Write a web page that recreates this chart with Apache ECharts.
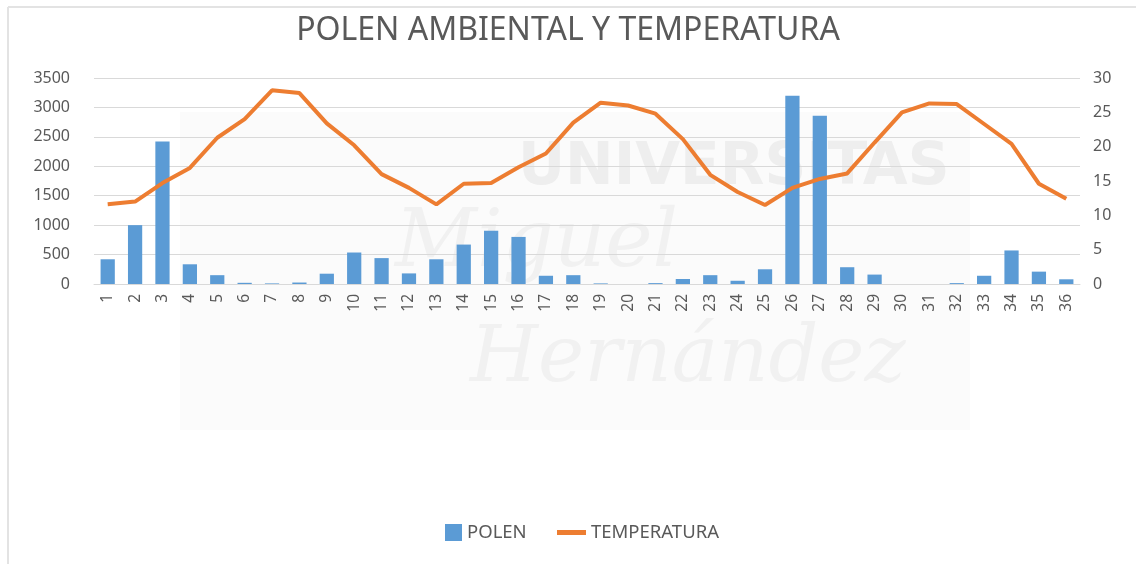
<!DOCTYPE html>
<html lang="es">
  <head>
    <meta charset="UTF-8" />
    <title>Polen ambiental y temperatura</title>
    <script src="https://cdn.jsdelivr.net/npm/echarts@6/dist/echarts.min.js"></script>
    <style>
      html, body { margin: 0; padding: 0; background: #fff; }
      #chart { width: 1136px; height: 564px; }
    </style>
  </head>
  <body>
    <div id="chart"></div>
    <script>
      // muestras 1..36
      var categories = [];
      for (var i = 1; i <= 36; i++) categories.push(String(i));

      var polen = [
        420, 1000, 2420, 335, 150, 20, 10, 25, 175, 535,
        440, 180, 420, 670, 905, 800, 140, 150, 10, 0,
        15, 85, 150, 55, 250, 3200, 2860, 285, 160, 0,
        0, 15, 140, 570, 210, 80
      ];
      var temperatura = [
        11.6, 12.0, 14.7, 16.9, 21.3, 24.0, 28.2, 27.8, 23.4, 20.2,
        16.0, 14.0, 11.6, 14.6, 14.7, 17.0, 19.0, 23.5, 26.4, 26.0,
        24.8, 21.1, 15.9, 13.4, 11.5, 14.0, 15.3, 16.1, 20.6, 25.0,
        26.3, 26.2, 23.3, 20.4, 14.6, 12.4
      ];

      var txt = "#595959";
      var font = "Noto Sans";
      var legendText = { color: txt, fontSize: 18.5, fontFamily: font };

      var chart = echarts.init(document.getElementById("chart"));
      var option = {
        backgroundColor: "#ffffff",
        animation: false,
        textStyle: { fontFamily: font },
        title: {
          text: "POLEN AMBIENTAL Y TEMPERATURA",
          left: "center",
          top: 10,
          textStyle: { color: txt, fontSize: 32, fontWeight: "normal", fontFamily: font }
        },
        graphic: [
          // marco del grafico
          { type: "line", shape: { x1: 8, y1: 7, x2: 1136, y2: 7 }, style: { stroke: "#e3e3e3", lineWidth: 2 }, z: -5 },
          { type: "line", shape: { x1: 8, y1: 7, x2: 8, y2: 564 }, style: { stroke: "#e3e3e3", lineWidth: 2 }, z: -5 },
          // marca de agua
          { type: "rect", shape: { x: 180, y: 112, width: 790, height: 318 }, style: { fill: "#fbfbfb" }, z: -10 },
          { type: "text", left: 518, top: 140, z: -9, style: { text: "UNIVERSITAS", fill: "#eeeeee", font: "bold 58px 'DejaVu Sans'" } },
          { type: "text", left: 395, top: 205, z: -9, style: { text: "Miguel", fill: "#f1f1f1", font: "italic 80px 'DejaVu Serif'" } },
          { type: "text", left: 470, top: 322, z: -9, style: { text: "Hernández", fill: "#f1f1f1", font: "italic 78px 'DejaVu Serif'" } }
        ],
        legend: [
          {
            left: 440,
            top: 518,
            itemWidth: 17,
            itemHeight: 17,
            itemGap: 6,
            icon: "rect",
            textStyle: legendText,
            data: ["POLEN"]
          },
          {
            left: 552,
            top: 518,
            itemWidth: 29,
            itemHeight: 5,
            icon: "rect",
            textStyle: legendText,
            data: ["TEMPERATURA"]
          }
        ],
        grid: { left: 94, right: 56, top: 78, bottom: 280 },
        xAxis: {
          type: "category",
          data: categories,
          axisLine: { lineStyle: { color: "#d9d9d9" } },
          axisTick: { show: false },
          axisLabel: { rotate: 90, color: txt, fontSize: 15.5, margin: 10, interval: 0 }
        },
        yAxis: [
          {
            type: "value",
            min: 0, max: 3500, interval: 500,
            axisLine: { show: false },
            axisTick: { show: false },
            axisLabel: { color: txt, fontSize: 16, margin: 24, formatter: function (v) { return String(v); } },
            splitLine: { lineStyle: { color: "#d9d9d9" } }
          },
          {
            type: "value",
            min: 0, max: 30, interval: 5,
            axisLine: { show: false },
            axisTick: { show: false },
            axisLabel: { color: txt, fontSize: 16, margin: 13 },
            splitLine: { show: false }
          }
        ],
        series: [
          {
            name: "POLEN",
            type: "bar",
            data: polen,
            barCategoryGap: "48%",
            itemStyle: { color: "#5b9bd5" }
          },
          {
            name: "TEMPERATURA",
            type: "line",
            yAxisIndex: 1,
            data: temperatura,
            symbol: "none",
            lineStyle: { color: "#ed7d31", width: 4 },
            itemStyle: { color: "#ed7d31" }
          }
        ]
      };
      chart.setOption(option);
    </script>
  </body>
</html>
